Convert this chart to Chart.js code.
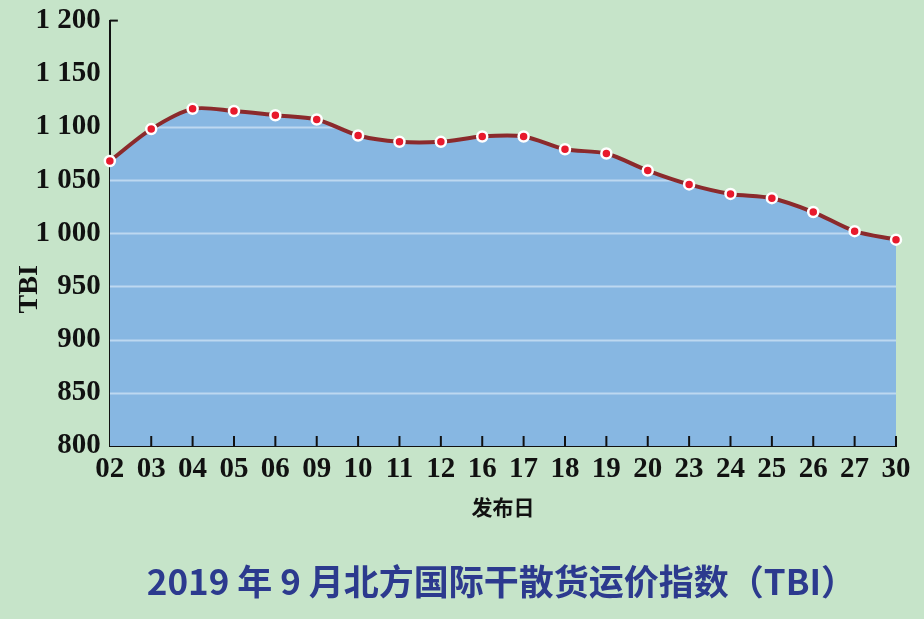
<!DOCTYPE html>
<html>
<head>
<meta charset="utf-8">
<script src="https://cdn.jsdelivr.net/npm/chart.js@4.4.1/dist/chart.umd.min.js"></script>
<style>
  html, body { margin: 0; padding: 0; background: #c6e4c9; }
  #wrap { width: 924px; height: 619px; position: relative; }
</style>
</head>
<body>
<div id="wrap"><canvas id="tbiChart"></canvas></div>
<script>
// =========================
// DATA
// =========================

const days = ["02", "03", "04", "05", "06", "09", "10", "11", "12", "16",
              "17", "18", "19", "20", "23", "24", "25", "26", "27", "30"];

const tbiValues = [1068, 1098, 1117, 1115, 1111, 1107, 1092, 1086, 1086, 1091,
                   1091, 1079, 1075, 1059, 1046, 1037, 1033, 1020, 1002, 994];

const yMin = 800;
const yMax = 1200;
const yStep = 50;

const titleText = "2019 年 9 月北方国际干散货运价指数（TBI）";

// =========================
// PLUGINS
// =========================

// light grid lines, only inside the blue area, under the line
const gridOverFill = {
  id: "gridOverFill",
  beforeDatasetsDraw(chart) {
    const { ctx, chartArea, scales } = chart;
    const line = chart.getDatasetMeta(0).dataset;
    ctx.save();
    // clip to the area under the curve
    ctx.beginPath();
    line.path(ctx);
    ctx.lineTo(chartArea.right, chartArea.bottom);
    ctx.lineTo(chartArea.left, chartArea.bottom);
    ctx.closePath();
    ctx.clip();
    ctx.strokeStyle = "rgba(225,238,250,0.6)";
    ctx.lineWidth = 2;
    for (let v = yMin + yStep; v < yMax; v += yStep) {
      const y = Math.round(scales.y.getPixelForValue(v)) + 0.5;
      ctx.beginPath();
      ctx.moveTo(chartArea.left, y);
      ctx.lineTo(chartArea.right, y);
      ctx.stroke();
    }
    ctx.restore();
  }
};

// inward ticks on the x axis, one short tick at the top of y
const innerTicks = {
  id: "innerTicks",
  afterDraw(chart) {
    const { ctx, chartArea, scales } = chart;
    ctx.save();
    ctx.strokeStyle = "#111";
    ctx.lineWidth = 2;
    scales.x.ticks.forEach((t, i) => {
      if (i === 0) return;
      const x = scales.x.getPixelForTick(i);
      ctx.beginPath();
      ctx.moveTo(x, chartArea.bottom);
      ctx.lineTo(x, chartArea.bottom - 10);
      ctx.stroke();
    });
    const yTop = scales.y.getPixelForValue(yMax);
    ctx.beginPath();
    ctx.moveTo(chartArea.left, yTop);
    ctx.lineTo(chartArea.left + 8, yTop);
    ctx.stroke();
    ctx.restore();
  }
};

// =========================
// CHART
// =========================

const serifFont = "'Liberation Serif', 'DejaVu Serif', serif";

const ctx = document.getElementById("tbiChart");

const tbiChart = new Chart(ctx, {
  type: "line",
  data: {
    labels: days,
    datasets: [
      {
        label: "TBI",
        data: tbiValues,
        borderColor: "#8b2a2c",
        borderWidth: 4,
        backgroundColor: "#87b7e2",
        fill: "start",
        tension: 0.3,
        pointRadius: 5,
        pointBackgroundColor: "#e8192c",
        pointBorderColor: "#ffffff",
        pointBorderWidth: 2.5
      }
    ]
  },
  options: {
    responsive: true,
    maintainAspectRatio: false,
    animation: false,
    layout: { padding: { left: 13, right: 28, top: 0, bottom: 16 } },
    plugins: {
      legend: { display: false },
      tooltip: { enabled: false },
      filler: { drawTime: "beforeDatasetsDraw" },
      title: {
        display: true,
        position: "bottom",
        // leading spaces nudge the title right, as in the picture
        text: "\u3000\u3000   " + titleText,
        color: "#2c3a8e",
        font: { family: "'Noto Sans CJK SC', sans-serif", size: 35, weight: "bold" },
        padding: { top: 41, bottom: 0 }
      }
    },
    scales: {
      x: {
        type: "category",
        offset: false,
        grid: { display: false, drawTicks: false },
        border: { display: true, color: "#111", width: 2 },
        ticks: {
          color: "#111",
          padding: 6,
          maxRotation: 0,
          autoSkip: false,
          font: { family: serifFont, size: 29, weight: "bold" }
        },
        title: {
          display: true,
          text: "发布日",
          color: "#111",
          padding: { top: 2, bottom: 0 },
          font: { family: "'Noto Sans CJK SC', sans-serif", size: 21, weight: "bold" }
        }
      },
      y: {
        min: yMin,
        max: yMax,
        grid: { display: false, drawTicks: false },
        border: { display: true, color: "#111", width: 2 },
        ticks: {
          stepSize: yStep,
          color: "#111",
          padding: 9,
          font: { family: serifFont, size: 29, weight: "bold", lineHeight: 0.8 },
          callback: (v) => v >= 1000
            ? Math.floor(v / 1000) + " " + String(v % 1000).padStart(3, "0")
            : String(v)
        },
        title: {
          display: true,
          // trailing spaces push the rotated title down toward the lower ticks
          text: "TBI                ",
          color: "#111",
          padding: { top: 0, bottom: -20 },
          font: { family: serifFont, size: 28, weight: "bold" }
        }
      }
    }
  },
  plugins: [gridOverFill, innerTicks]
});
</script>
</body>
</html>
